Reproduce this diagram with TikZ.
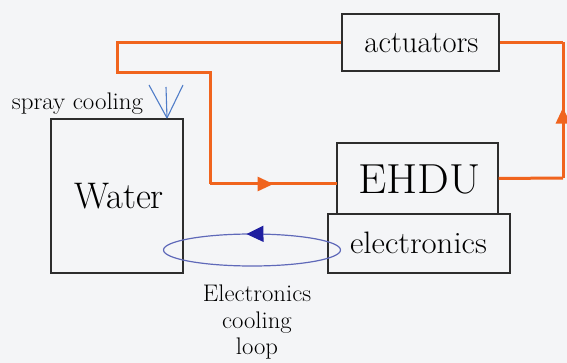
\documentclass[tikz,border=0pt]{standalone}
\usetikzlibrary{arrows.meta,decorations.markings}
\definecolor{bgc}{RGB}{244,245,247}
\definecolor{boxc}{RGB}{45,45,45}
\definecolor{orng}{RGB}{240,100,30}
\definecolor{spray}{RGB}{80,125,200}
\definecolor{loopc}{RGB}{95,105,185}
\definecolor{loopa}{RGB}{30,30,160}
\newcommand\sx[3]{\scalebox{#1}[1]{\fontsize{#2}{#2}\selectfont #3}}
\tikzset{
  x=1pt,y=-1pt,
  box/.style={draw=boxc,line width=1.3pt,inner sep=0pt,fill=bgc},
  pipe/.style={draw=orng,line width=3pt,line join=miter},
  sprayline/.style={draw=spray,line width=1.1pt},
  txt/.style={inner sep=0pt,text=black},
}
\begin{document}
\begin{tikzpicture}
\fill[bgc] (0,0) rectangle (567,363);
\useasboundingbox (0,0) rectangle (567,363);
% boxes
\node[box,minimum width=132pt,minimum height=154pt] (water) at (117,196) {};
\node[txt] (wt) at (119,196) {\sx{0.99}{37}{Water}};
\node[box,minimum width=182pt,minimum height=59pt] (elec) at (419,243.5) {};
\node[txt] (et) at (418.5,243) {\sx{1.06}{31}{electronics}};
\node[box,minimum width=161pt,minimum height=71pt] (ehdu) at (417.5,178.5) {};
\node[txt] (ht) at (419.5,179) {\sx{1.07}{42}{EHDU}};
\node[box,minimum width=157pt,minimum height=57pt] (act) at (420.5,42.5) {};
\node[txt] (at) at (421.5,43) {\sx{0.99}{31}{actuators}};
% labels
\node[txt,anchor=base] (sc) at (77.5,110) {\sx{1.04}{24}{spray cooling}};
\node[txt,anchor=north] (ecl) at (257,283) {\scalebox{1.03}[1]{\fontsize{24}{26.5}\selectfont\begin{tabular}{@{}c@{}}Electronics\\cooling\\loop\end{tabular}}};
% orange pipes
\coordinate (c1) at (117,42.5);
\coordinate (c2) at (117,73);
\coordinate (c3) at (210,73);
\coordinate (c4) at (210,184);
\coordinate (e1) at (337,184);
\draw[pipe] (act.west) -- (c1) -- (c2) -- (c3) -- (c4);
\draw[pipe,postaction={decorate,decoration={markings,mark=at position 0.5 with {\arrow[orng]{Triangle[length=16pt,width=14pt]}}}}] (c4) -- (e1);
\coordinate (r1) at (563,178);
\coordinate (r2) at (563,42.5);
\draw[pipe] (ehdu.east) -- (r1);
\draw[pipe,postaction={decorate,decoration={markings,mark=at position 0.52 with {\arrow[orng]{Triangle[length=16pt,width=14pt]}}}}] (r1) -- (r2);
\draw[pipe] (r2) -- (act.east);
% spray cooling
\coordinate (sp) at (167,118);
\coordinate (s1) at (149,85);
\coordinate (s2) at (166,87);
\coordinate (s3) at (183,85);
\draw[sprayline] (s1) -- (sp);
\draw[sprayline] (s2) -- (sp);
\draw[sprayline] (s3) -- (sp);
% cooling loop
\draw[draw=loopc,line width=1.2pt,postaction={decorate,decoration={markings,mark=at position 0.735 with {\arrowreversed[loopa]{Triangle[length=17pt,width=16pt]}}}}] (252,250) ellipse [x radius=88.5, y radius=16];
\end{tikzpicture}
\end{document}
